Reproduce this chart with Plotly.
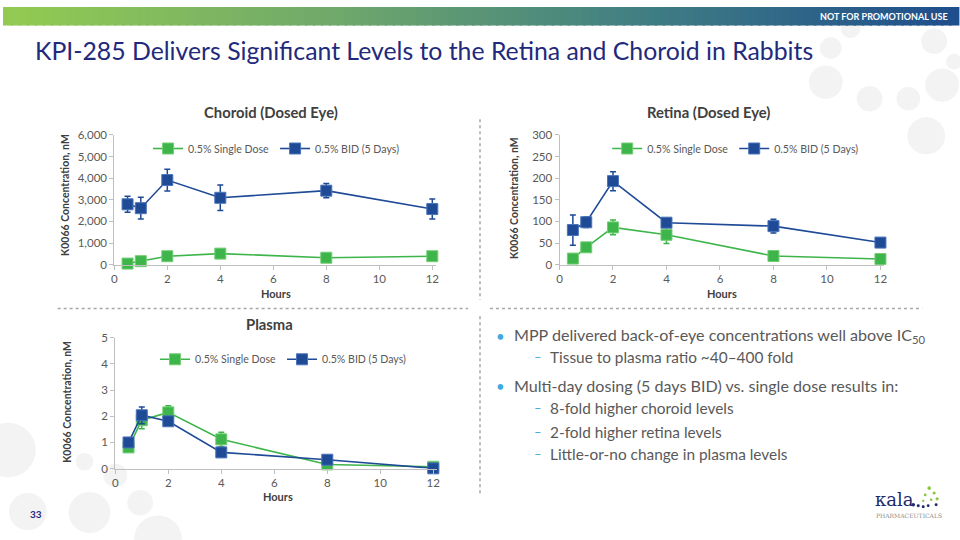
import plotly.graph_objects as go
from plotly.colors import sample_colorscale

W, H = 960, 540

# ---------------- data ----------------
hours = [0.5, 1, 2, 4, 8, 12]
x_ticks = [0, 2, 4, 6, 8, 10, 12]

choroid_single = [50, 160, 390, 510, 320, 390]
choroid_single_err = [0, 0, 0, 0, 0, 0]
choroid_bid = [2790, 2610, 3910, 3090, 3420, 2570]
choroid_bid_err = [370, 500, 500, 590, 330, 460]
choroid_ticks = [0, 1000, 2000, 3000, 4000, 5000, 6000]

retina_single = [14, 40, 86, 69, 20, 13]
retina_single_err = [0, 0, 17, 20, 0, 0]
retina_bid = [80, 98, 193, 97, 89, 51]
retina_bid_err = [35, 12, 22, 0, 16, 0]
retina_ticks = [0, 50, 100, 150, 200, 250, 300]

plasma_single = [0.81, 1.85, 2.15, 1.12, 0.16, 0.07]
plasma_single_err = [0.05, 0.33, 0.25, 0.27, 0, 0]
plasma_bid = [1.0, 2.04, 1.81, 0.62, 0.34, 0.01]
plasma_bid_err = [0.15, 0.32, 0.12, 0.05, 0.05, 0]
plasma_ticks = [0, 1, 2, 3, 4, 5]

series_names = ["0.5% Single Dose", "0.5% BID (5 Days)"]
panel_titles = ["Choroid (Dosed Eye)", "Retina (Dosed Eye)", "Plasma"]
y_title = "K0066 Concentration, nM"
x_title = "Hours"
slide_title = "KPI-285 Delivers Significant Levels to the Retina and Choroid in Rabbits"
banner_text = "NOT FOR PROMOTIONAL USE"
bullets = [
    (0, "MPP delivered back-of-eye concentrations well above IC<sub>50</sub>"),
    (1, "Tissue to plasma ratio ~40–400 fold"),
    (0, "Multi-day dosing (5 days BID) vs. single dose results in:"),
    (1, "8-fold higher choroid levels"),
    (1, "2-fold higher retina levels"),
    (1, "Little-or-no change in plasma levels"),
]
page_number = "33"

# ---------------- style ----------------
FONT = "Lato"
GREEN = "#3DB54A"
GREEN_EDGE = "#74CE74"
BLUE = "#1E4A96"
BLUE_EDGE = "#4A74BA"
AXIS = "#BFBFBF"
TXT = "#595959"
DARK = "#404040"
NAVY = "#1F2A7C"
LIGHTBLUE = "#41A9E0"


def px(x):
    return x / W


def py(y):
    return 1 - y / H


fig = go.Figure()


def text(x, y, t, size, color, family=FONT, xanchor="center", angle=0):
    fig.add_annotation(xref="paper", yref="paper", x=px(x), y=py(y), text=t,
                       xanchor=xanchor, yanchor="middle", showarrow=False,
                       textangle=angle, borderpad=0,
                       font=dict(family=family, size=size, color=color))


def circle(cx, cy, r, color, layer="below"):
    fig.add_shape(type="circle", xref="paper", yref="paper",
                  x0=px(cx - r), x1=px(cx + r), y0=py(cy + r), y1=py(cy - r),
                  fillcolor=color, line_width=0, layer=layer)


# background circles (decoration)
circles = [(833, 42, 11), (828, 77, 17), (872, 94, 13), (911, 94, 12), (937, 35, 13),
           (945, 80, 17), (929, 132, 19), (957, 56, 8), (853, 22, 10),
           (5, 454, 28), (82, 466, 9), (25, 517, 19), (87, 518, 21), (138, 508, 13),
           (156, 545, 24), (113, 480, 12)]
for cx, cy, r in circles:
    circle(cx, cy, r, "#F3F3F4")

# gradient banner built from thin slices
banner_scale = [[0, "#93CB52"], [0.35, "#6FA86B"], [0.68, "#3F7D84"], [1, "#1F4E8C"]]
n_slices = 120
cols = sample_colorscale(banner_scale, [i / (n_slices - 1) for i in range(n_slices)])
for i, c in enumerate(cols):
    fig.add_shape(type="rect", xref="paper", yref="paper",
                  x0=i / n_slices, x1=(i + 1.3) / n_slices, y0=py(19), y1=1,
                  fillcolor=c, line_width=0, layer="below")

panels = [
    dict(title=panel_titles[0], single=choroid_single, serr=choroid_single_err,
         bid=choroid_bid, berr=choroid_bid_err, ticks=choroid_ticks, fmt=",",
         x0=112, x1=436, ybot=264, ytop=131, tx=270, ty=108, leg=(146, 145),
         ytx=63, yty=193, htx=275, hty=294),
    dict(title=panel_titles[1], single=retina_single, serr=retina_single_err,
         bid=retina_bid, berr=retina_bid_err, ticks=retina_ticks, fmt="",
         x0=560, x1=887, ybot=264, ytop=131, tx=710, ty=108, leg=(608, 145),
         ytx=515, yty=196, htx=724, hty=294),
    dict(title=panel_titles[2], single=plasma_single, serr=plasma_single_err,
         bid=plasma_bid, berr=plasma_bid_err, ticks=plasma_ticks, fmt="",
         x0=113, x1=437, ybot=473, ytop=339, tx=268, ty=325, leg=(153, 361),
         ytx=65, yty=405, htx=277, hty=502),
]

layout_axes = {}
for i, p in enumerate(panels):
    n = "" if i == 0 else str(i + 1)
    leg = "legend" if i == 0 else f"legend{i + 1}"
    for name, vals, err, col, edge in [
        (series_names[0], p["single"], p["serr"], GREEN, GREEN_EDGE),
        (series_names[1], p["bid"], p["berr"], BLUE, BLUE_EDGE),
    ]:
        fig.add_trace(go.Scatter(
            x=hours, y=vals, name=name, mode="lines+markers",
            xaxis="x" + n, yaxis="y" + n, legend=leg,
            line=dict(color=col, width=1.6),
            marker=dict(symbol="square", size=11, color=col,
                        line=dict(color=edge, width=1)),
            error_y=dict(type="data", array=err, visible=True, color=col,
                         thickness=1.5, width=3),
            cliponaxis=False, hoverinfo="skip"))
    layout_axes["xaxis" + n] = dict(
        domain=[px(p["x0"]), px(p["x1"])], range=[0, 12.15], anchor="y" + n,
        tickvals=x_ticks, showline=True, linecolor=AXIS, linewidth=1,
        ticks="outside", ticklen=4, tickcolor=AXIS, showgrid=False, zeroline=False,
        tickfont=dict(family=FONT, size=11.5, color=TXT), fixedrange=True)
    layout_axes["yaxis" + n] = dict(
        domain=[py(p["ybot"]), py(p["ytop"])], range=[0, p["ticks"][-1]],
        anchor="x" + n, tickvals=p["ticks"], tickformat=p["fmt"],
        showline=True, linecolor=AXIS, linewidth=1, ticks="outside", ticklen=4,
        tickcolor=AXIS, showgrid=False, zeroline=False,
        tickfont=dict(family=FONT, size=11.5, color=TXT), fixedrange=True)
    layout_axes[leg] = dict(
        orientation="h", x=px(p["leg"][0]), y=py(p["leg"][1]), xanchor="left",
        yanchor="middle", bgcolor="rgba(0,0,0,0)", itemwidth=30, entrywidth=82,
        font=dict(family=FONT, size=10.6, color=TXT), itemclick=False,
        itemdoubleclick=False, tracegroupgap=0)
    text(p["tx"], p["ty"], f"<b>{p['title']}</b>", 14.8, DARK)
    text(p["ytx"], p["yty"], f"<b>{y_title}</b>", 10.5, DARK, angle=-90)
    text(p["htx"], p["hty"], f"<b>{x_title}</b>", 11, DARK)

text(952, 10, f"<b>{banner_text}</b>", 9, "white", xanchor="right")
text(31, 45, slide_title, 24.8, NAVY, xanchor="left")

# dotted separators
for (x0, y0, x1, y1) in [(480, 115, 480, 300), (480, 317, 480, 500),
                         (55, 309, 468, 309), (490, 309, 925, 309)]:
    fig.add_shape(type="line", xref="paper", yref="paper", x0=px(x0), x1=px(x1),
                  y0=py(y0), y1=py(y1), line=dict(color="#A6A6A6", width=1.5, dash="dot"))

# bullets
bullet_y = [337, 359, 388, 411, 435, 458]
for (lvl, t), y in zip(bullets, bullet_y):
    if lvl == 0:
        text(495, y, "•", 15, LIGHTBLUE, xanchor="left")
        text(513, y, t, 16.1, TXT, xanchor="left")
    else:
        text(533, y, "–", 13, LIGHTBLUE, xanchor="left")
        text(549, y, t, 15.4, TXT, xanchor="left")

text(33, 519, f"<b>{page_number}</b>", 10, NAVY)

# logo
text(876, 505, "κala", 18, "#1F2A6C", family="DejaVu Serif", xanchor="left")
text(877, 521, "PHARMACEUTICALS", 6, "#8A8A8A", family="DejaVu Serif", xanchor="left")
logo_dots = [(916, 510, 1.8, "#1F2A6C"), (921, 511, 1.5, "#1F2A6C"),
             (926, 512, 1.5, "#1F2A6C"), (931, 511, 1.4, "#1F2A6C"),
             (932, 493, 1.8, "#8CC63F"), (937, 498, 1.6, "#8CC63F"),
             (940, 504, 1.6, "#8CC63F"), (928, 500, 1.4, "#8CC63F"),
             (934, 505, 1.3, "#8CC63F"), (939, 510, 1.5, "#1F2A6C"),
             (926, 506, 1.2, "#8CC63F")]
for cx, cy, r, c in logo_dots:
    circle(cx, cy, r, c, layer="above")

fig.update_layout(width=W, height=H, margin=dict(l=0, r=0, t=0, b=0),
                  paper_bgcolor="white", plot_bgcolor="rgba(0,0,0,0)",
                  showlegend=True, font=dict(family=FONT), **layout_axes)

fig.write_html("out.html", config={"displayModeBar": False},
               post_script="document.body.style.margin='0';"
                           "document.body.style.overflow='hidden';")
